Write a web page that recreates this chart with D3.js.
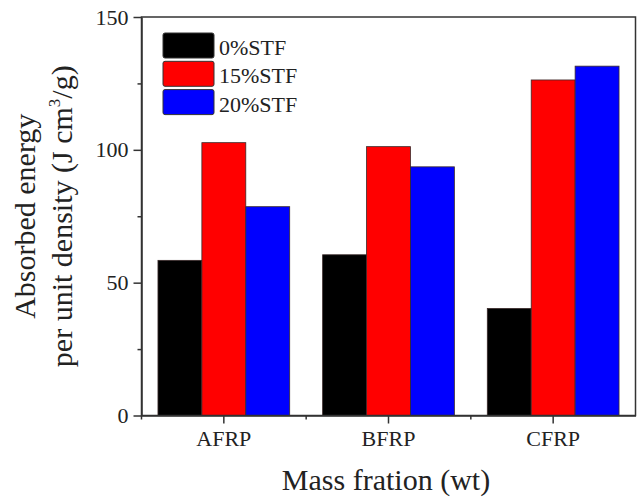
<!DOCTYPE html>
<html>
<head>
<meta charset="utf-8">
<script src="https://cdn.jsdelivr.net/npm/d3@7"></script>
<style>
  body { margin: 0; background: #fff; }
  text { font-family: "Liberation Serif", "Times New Roman", serif; fill: #222; }
</style>
</head>
<body>
<script>
var categories = ["AFRP", "BFRP", "CFRP"];
var seriesNames = ["0%STF", "15%STF", "20%STF"];
var seriesColors = ["#000000", "#ff0000", "#0000ff"];
var stf0 = [58.4, 60.5, 40.3];
var stf15 = [102.7, 101.2, 126.3];
var stf20 = [78.6, 93.6, 131.5];
var yTicks = [0, 50, 100, 150];
var yMinorTicks = [25, 75, 125];

var seriesValues = [stf0, stf15, stf20];

var width = 637, height = 502;
var plotLeft = 141.5, plotRight = 635.5, plotTop = 17, plotBottom = 415.5;

var svg = d3.select("body").append("svg")
  .attr("width", width)
  .attr("height", height);

var x = d3.scaleBand()
  .domain(categories)
  .range([plotLeft, plotRight])
  .paddingInner(0.2)
  .paddingOuter(0.1);

var xInner = d3.scaleBand()
  .domain(seriesNames)
  .range([0, x.bandwidth()]);

var y = d3.scaleLinear()
  .domain([0, 150])
  .range([plotBottom, plotTop]);

// bars
var groups = svg.append("g").selectAll("g")
  .data(categories)
  .join("g")
  .attr("transform", function(c) { return "translate(" + x(c) + ",0)"; });

groups.selectAll("rect")
  .data(function(c, i) {
    return seriesNames.map(function(s, j) {
      return {name: s, value: seriesValues[j][i], color: seriesColors[j]};
    });
  })
  .join("rect")
  .attr("x", function(d) { return xInner(d.name); })
  .attr("y", function(d) { return y(d.value); })
  .attr("width", xInner.bandwidth())
  .attr("height", function(d) { return y(0) - y(d.value); })
  .attr("fill", function(d) { return d.color; })
  .attr("stroke", "#3a2a2a")
  .attr("stroke-width", 0.8);

// frame
svg.append("rect")
  .attr("x", plotLeft)
  .attr("y", plotTop)
  .attr("width", plotRight - plotLeft)
  .attr("height", plotBottom - plotTop)
  .attr("fill", "none")
  .attr("stroke", "#333")
  .attr("stroke-width", 1.5);

// y axis
var yAxis = svg.append("g")
  .attr("transform", "translate(" + plotLeft + ",0)")
  .call(d3.axisLeft(y).tickValues(yTicks).tickSize(8).tickPadding(5).tickSizeOuter(0));
yAxis.select(".domain").attr("stroke", "#333").attr("stroke-width", 1.5);
yAxis.selectAll(".tick line").attr("stroke", "#333").attr("stroke-width", 1.5);
yAxis.selectAll(".tick text")
  .style("font-family", "Liberation Serif")
  .style("font-size", "22px")
  .attr("fill", "#222");

svg.append("g")
  .attr("transform", "translate(" + plotLeft + ",0)")
  .call(d3.axisLeft(y).tickValues(yMinorTicks).tickSize(4).tickFormat("").tickSizeOuter(0))
  .call(function(g) { g.select(".domain").remove(); })
  .selectAll(".tick line").attr("stroke", "#333").attr("stroke-width", 1.5);

// x axis
var xAxis = svg.append("g")
  .attr("transform", "translate(0," + plotBottom + ")")
  .call(d3.axisBottom(x).tickSize(8).tickPadding(7).tickSizeOuter(0));
xAxis.select(".domain").attr("stroke", "#333").attr("stroke-width", 1.5);
xAxis.selectAll(".tick line").attr("stroke", "#333").attr("stroke-width", 1.5);
xAxis.selectAll(".tick text")
  .style("font-family", "Liberation Serif")
  .style("font-size", "22px")
  .attr("fill", "#222");

// minor x ticks at category boundaries
var step = x.step();
var xMinor = [x(categories[0]) + x.bandwidth() / 2 - step / 2].concat(
  categories.slice(0, -1).map(function(c) { return x(c) + x.bandwidth() / 2 + step / 2; }));
svg.append("g").selectAll("line")
  .data(xMinor)
  .join("line")
  .attr("x1", function(d) { return d; })
  .attr("x2", function(d) { return d; })
  .attr("y1", plotBottom)
  .attr("y2", plotBottom + 4)
  .attr("stroke", "#333")
  .attr("stroke-width", 1.5);

// axis titles
var yTitle = svg.append("text")
  .attr("transform", "rotate(-90)")
  .attr("text-anchor", "middle")
  .style("font-size", "30px");
yTitle.append("tspan")
  .attr("x", -(plotTop + plotBottom) / 2)
  .attr("y", 35)
  .text("Absorbed energy");
var line2 = yTitle.append("tspan")
  .attr("x", -(plotTop + plotBottom) / 2)
  .attr("y", 72)
  .text("per unit density (J cm");
line2.append("tspan")
  .attr("dy", -12)
  .style("font-size", "17px")
  .text("3");
line2.append("tspan")
  .attr("dy", 12)
  .text("/g)");

svg.append("text")
  .attr("x", 386)
  .attr("y", 490)
  .attr("text-anchor", "middle")
  .style("font-size", "30px")
  .text("Mass fration (wt)");

// legend
var legend = svg.append("g").selectAll("g")
  .data(seriesNames)
  .join("g")
  .attr("transform", function(d, i) { return "translate(163," + (33 + i * 28.3) + ")"; });

legend.append("rect")
  .attr("width", 51)
  .attr("height", 25)
  .attr("rx", 2)
  .attr("fill", function(d, i) { return seriesColors[i]; })
  .attr("stroke", "#333")
  .attr("stroke-width", 1);

legend.append("text")
  .attr("x", 56)
  .attr("y", 22)
  .style("font-size", "22px")
  .text(function(d) { return d; });
</script>
</body>
</html>
